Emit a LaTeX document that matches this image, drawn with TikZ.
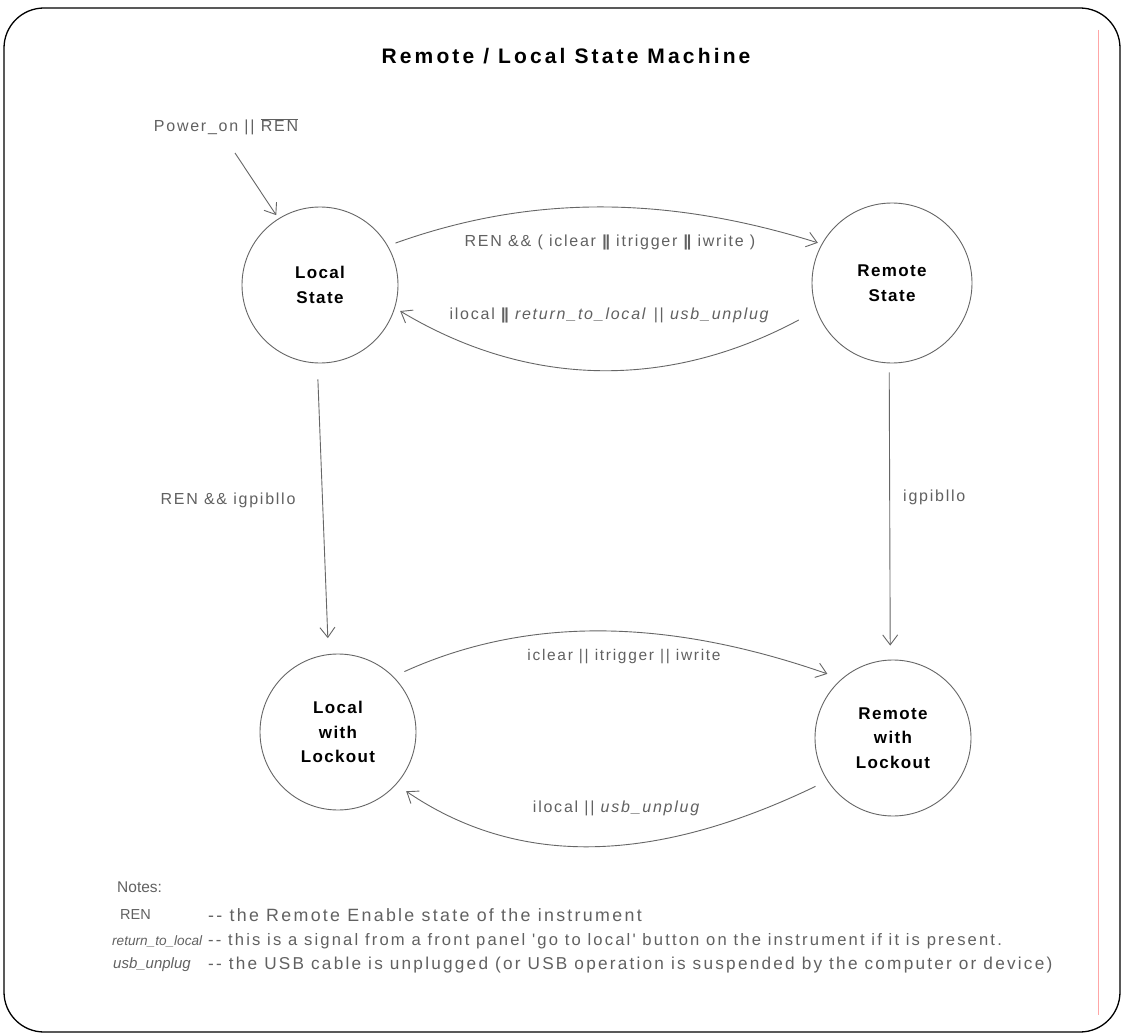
\documentclass[tikz,border=0pt]{standalone}
\usepackage{fontspec}
\setmainfont{Liberation Sans}
\newfontfamily\lblfont[LetterSpace=11]{Liberation Sans}
\newfontfamily\nodefont[LetterSpace=8]{Liberation Sans}
\newfontfamily\titlefont[LetterSpace=15]{Liberation Sans}
\newfontfamily\notefont[LetterSpace=13]{Liberation Sans}
\newfontfamily\keyfont{Liberation Sans}
\usetikzlibrary{arrows.meta}
\newcommand\thickbar{{\bfseries|\kern-1.2pt|}}
\begin{document}
\begin{tikzpicture}[x=1pt,y=-1pt,
  state/.style={circle,draw=black!60,line width=0.9pt,minimum size=156pt,inner sep=0pt,align=center,
    font=\nodefont\bfseries\fontsize{17}{24.5}\selectfont,text=black},
  lbl/.style={text=black!62,font=\lblfont\fontsize{16}{19}\selectfont,inner sep=0pt},
  note/.style={text=black!62,font=\notefont\fontsize{17}{20}\selectfont,inner sep=0pt,anchor=west},
  key/.style={text=black!62,font=\keyfont\fontsize{14.5}{17}\selectfont,inner sep=0pt,anchor=west},
  conn/.style={draw=black!60,line width=0.9pt,-{Straight Barb[length=10pt,width=15pt]}},
]
\useasboundingbox (0,0) rectangle (1122,1035);
\fill[white] (0,0) rectangle (1122,1035);
\draw[line width=1.3pt,rounded corners=40pt] (4,8) rectangle (1120,1032);
\draw[red!35,line width=0.8pt] (1098,30) -- (1098,1015);

\node[font=\titlefont\bfseries\fontsize{21}{25}\selectfont] (title) at (566,56) {Remote / Local State Machine};

\node[state] (ls) at (320,285) {Local\\State};
\node[state,minimum size=160pt] (rs) at (892,283) {Remote\\State};
\node[state] (ll) at (338,732) {Local\\with\\Lockout};
\node[state] (rl) at (893,738) {Remote\\with\\Lockout};

\node[lbl] (pw) at (226,127) {Power\_on || $\overline{\mbox{REN}}$};
\coordinate (pwstart) at (235,153);
\draw[conn,shorten >=4pt] (pwstart) -- (ls.122);

\node[lbl] (t1) at (610,242) {REN \&\& ( iclear \thickbar\ itrigger \thickbar\ iwrite )};
\node[lbl] (t2) at (610,315) {ilocal \thickbar\ \textit{return\_to\_local} || \textit{usb\_unplug}};
\draw[conn,shorten <=8pt,shorten >=4pt] (ls.30) .. controls (530,195) and (665,195) .. (rs.151);
\draw[conn,shorten <=20pt,shorten >=6pt] (rs.200) .. controls (670,389) and (530,389) .. (ls.343);

\node[lbl] (l1) at (228,500) {REN \&\& igpibllo};
\node[lbl,anchor=west] (r1) at (903,497) {igpibllo};
\draw[conn,shorten <=16pt,shorten >=16pt] (ls.-92) -- (ll.97);
\draw[conn,shorten <=9pt,shorten >=14pt] (rs.-92) -- (rl.92);

\node[lbl,font=\lblfont\fontsize{15.5}{19}\selectfont] (b1) at (624,657) {iclear || itrigger || iwrite};
\node[lbl] (b2) at (617,808) {ilocal || \textit{usb\_unplug}};
\draw[conn,shorten <=12pt,shorten >=15pt] (ll.45) .. controls (525,617) and (664,617) .. (rl.131);
\draw[conn,shorten <=13pt,shorten >=12pt] (rl.213) .. controls (650,866) and (516,866) .. (ll.318);

\node[key,font=\keyfont\fontsize{15.5}{18}\selectfont] (notes) at (117,887) {Notes:};
\node[key] (k1) at (120,915) {REN};
\node[key,font=\keyfont\fontsize{13.6}{17}\selectfont] (k2) at (112,941) {\textit{return\_to\_local}};
\node[key,font=\keyfont\fontsize{15}{18}\selectfont] (k3) at (113,965) {\textit{usb\_unplug}};
\node[note,font=\notefont\fontsize{17.8}{20}\selectfont] (d1) at (208,915) {-- the Remote Enable state of the instrument};
\node[note,font=\notefont\fontsize{16.6}{20}\selectfont] (d2) at (208,941) {-- this is a signal from a front panel 'go to local' button on the instrument if it is present.};
\node[note,font=\notefont\fontsize{17.2}{20}\selectfont] (d3) at (208,965) {-- the USB cable is unplugged (or USB operation is suspended by the computer or device)};
\end{tikzpicture}
\end{document}
